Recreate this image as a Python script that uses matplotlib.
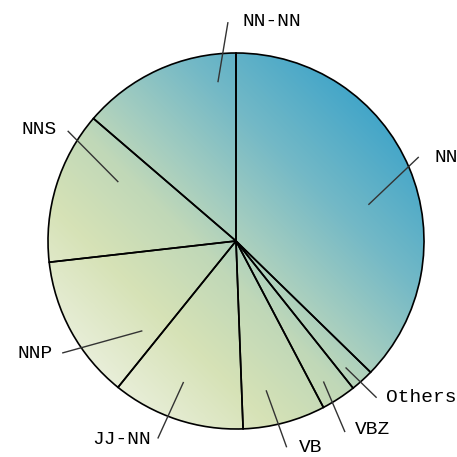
import numpy as np
import matplotlib
matplotlib.use("Agg")
import matplotlib.pyplot as plt
from matplotlib.colors import LinearSegmentedColormap
from matplotlib.patches import Circle

# Share of each tag (percent), clockwise from 12 o'clock
categories = ["NN", "Others", "VBZ", "VB", "JJ-NN", "NNP", "NNS", "NN-NN"]
shares = [37.3, 2.0, 3.0, 7.1, 11.4, 12.4, 13.1, 13.7]

W = H = 457
CX, CY, R = 236, H - 241, 188

fig = plt.figure(figsize=(W / 100, H / 100), dpi=100)
ax = fig.add_axes([0, 0, 1, 1])

wedges, _ = ax.pie(
    shares, startangle=90, counterclock=False, center=(CX, CY), radius=R,
    frame=True,
    wedgeprops=dict(facecolor="none", edgecolor="black", linewidth=1.2, zorder=3),
)

# Diagonal gradient fill: pale yellow-green (lower left) to blue (upper right)
cmap = LinearSegmentedColormap.from_list(
    "tagfill",
    [(0.0, "#e8eed8"), (0.22, "#d6e2b6"), (0.42, "#c0d8b8"),
     (0.55, "#a2ccc0"), (0.75, "#74b9c6"), (1.0, "#44a6c9")],
)
n = 400
xs = np.linspace(CX - R, CX + R, n)
ys = np.linspace(CY - R, CY + R, n)
gx, gy = np.meshgrid(xs, ys)
t = ((gx - CX) + (gy - CY)) / (np.sqrt(2) * 2 * R) + 0.5
img = ax.imshow(np.clip(t, 0, 1), cmap=cmap, vmin=0, vmax=1, origin="lower",
                extent=(CX - R, CX + R, CY - R, CY + R), zorder=1,
                interpolation="bilinear")
img.set_clip_path(Circle((CX, CY), R, transform=ax.transData))

# Leader lines: (inner angle, inner radius, outer angle, outer radius) per tag,
# then label anchor in pixels with alignment
leaders = {
    "NN":     (15.3, 0.73, 24.7, 1.07, (435, 158), "left"),
    "Others": (-49.1, 0.89, -48.1, 1.12, (386, 397), "left"),
    "VBZ":    (-58.1, 0.88, -60.3, 1.17, (355, 430), "left"),
    "VB":     (-78.6, 0.81, -76.2, 1.13, (299, 447), "left"),
    "JJ-NN":  (-110.4, 0.80, -111.6, 1.13, (151, 440), "right"),
    "NNP":    (-136.2, 0.69, -147.2, 1.10, (53, 354), "right"),
    "NNS":    (153.4, 0.70, 146.8, 1.07, (57, 130), "right"),
    "NN-NN":  (96.5, 0.85, 92.1, 1.165, (242, 22), "left"),
}

for name in categories:
    a_in, r_in, a_out, r_out, (tx, ty), ha = leaders[name]
    p0 = (CX + R * r_in * np.cos(np.radians(a_in)), CY + R * r_in * np.sin(np.radians(a_in)))
    p1 = (CX + R * r_out * np.cos(np.radians(a_out)), CY + R * r_out * np.sin(np.radians(a_out)))
    ax.plot([p0[0], p1[0]], [p0[1], p1[1]], color="#333333", lw=1.0, zorder=4,
            solid_capstyle="butt")
    ax.text(tx, H - ty, name, ha=ha, va="center", fontsize=14,
            family=["Liberation Mono", "DejaVu Sans Mono"], color="black", zorder=5)

ax.set_xlim(0, W)
ax.set_ylim(0, H)
ax.set_aspect("equal")
ax.axis("off")

fig.savefig("out.png", dpi=100, facecolor="white")
